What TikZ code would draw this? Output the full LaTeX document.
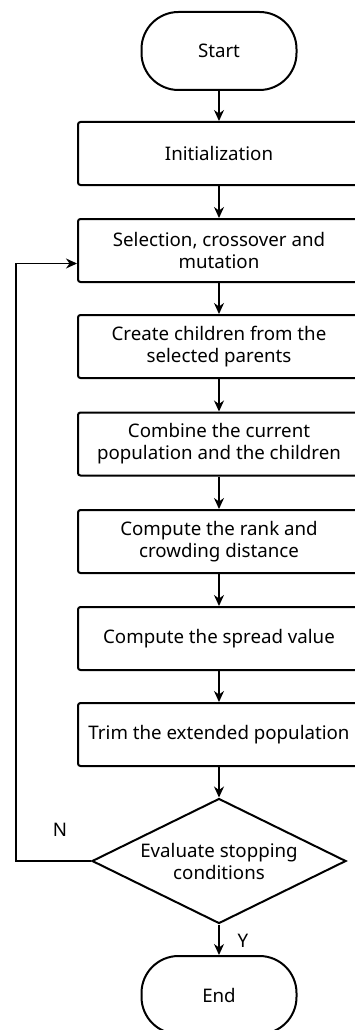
\documentclass[tikz,border=0pt]{standalone}
\usepackage{fontspec}
\setmainfont{Noto Sans}
\usetikzlibrary{shapes.geometric,arrows.meta}

\begin{document}
\begin{tikzpicture}[x=1pt,y=1pt,
   txt/.style={font=\fontsize{18.7}{22}\selectfont,align=center},
   proc/.style={txt,draw,line width=2pt,rounded corners=2.5pt,minimum width=282pt,minimum height=63pt,inner sep=0pt},
   term/.style={txt,draw,line width=2pt,rounded corners=37pt,minimum width=155pt,minimum height=78pt,inner sep=0pt},
   decide/.style={txt,draw,line width=2pt,diamond,aspect=2.03,minimum width=254pt,minimum height=125pt,inner sep=0pt},
   flow/.style={line width=1.3pt,-{Stealth[length=11pt,width=10pt,inset=3.5pt]}}]
\useasboundingbox (0,0) rectangle (355,-1030);
% main column
\node[term] (start) at (219,-51) {Start};
\node[proc] (init) at (219,-153.5) {Initialization};
\node[proc] (select) at (219,-250.5) {Selection, crossover and\\mutation};
\node[proc] (create) at (219,-346.5) {Create children from the\\selected parents};
\node[proc] (combine) at (219,-444) {Combine the current\\population and the children};
\node[proc] (rank) at (219,-541.5) {Compute the rank and\\crowding distance};
\node[proc] (spread) at (219,-638.5) {Compute the spread value};
\node[proc] (trim) at (219,-734.5) {Trim the extended population};
\node[decide] (stop) at (219,-861) {Evaluate stopping\\conditions};
\node[term] (end) at (219,-995) {End};
\foreach \a/\b in {start/init,init/select,select/create,create/combine,combine/rank,rank/spread,spread/trim,trim/stop,stop/end} {
   \draw[flow] (\a) -- (\b);
}
% back to selection when not done
\coordinate (back) at (16,-861);
\draw[flow] (stop.west) -- (back) |- ([yshift=-13pt]select.west);
\node[txt] (no) at (60,-830) {N};
\node[txt] (yes) at (243,-941) {Y};
\end{tikzpicture}
\end{document}
